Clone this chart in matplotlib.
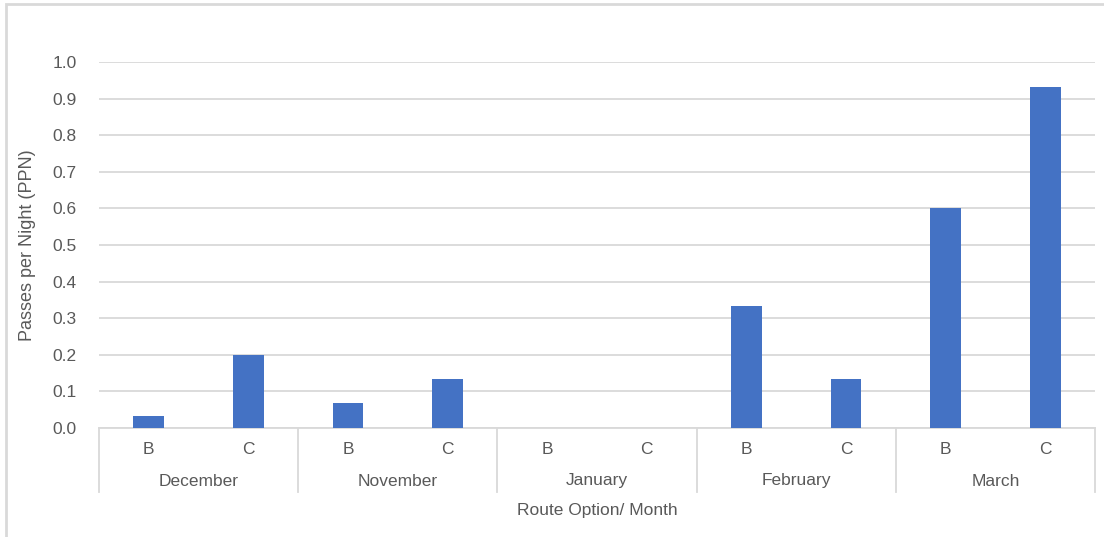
import matplotlib.pyplot as plt
from matplotlib.patches import Rectangle
import numpy as np

months = ["December", "November", "January", "February", "March"]
routes = ["B", "C"]
route_b = [0.033, 0.067, 0.0, 0.333, 0.600]
route_c = [0.200, 0.133, 0.0, 0.133, 0.933]
y_ticks = [0.0, 0.1, 0.2, 0.3, 0.4, 0.5, 0.6, 0.7, 0.8, 0.9, 1.0]

bar_color = "#4472C4"
grid_color = "#D9D9D9"
text_color = "#595959"
fs = 12.5
plt.rcParams["font.family"] = ["Liberation Sans", "DejaVu Sans"]

W, H = 1104, 537
fig = plt.figure(figsize=(W / 100, H / 100), dpi=100)
# outer chart border (cut off on right and bottom like the screenshot)
fig.patches.append(Rectangle((6 / W, -0.1), 1.2, (H - 4) / H + 0.1, transform=fig.transFigure,
                             fill=False, edgecolor=grid_color, linewidth=2))

ax = fig.add_axes([99 / W, 109 / H, (1095 - 99) / W, (428 - 62) / H])

# interleave B/C values per month
values = []
labels = []
for b, c in zip(route_b, route_c):
    values += [b, c]
    labels += routes
x = np.arange(len(values)) + 0.5
ax.bar(x, values, width=0.31, color=bar_color, zorder=3)

ax.set_xlim(0, len(values))
ax.set_ylim(0, 1.0)
ax.set_yticks(y_ticks)
ax.set_yticklabels([f"{v:.1f}" for v in y_ticks])
ax.yaxis.grid(True, color=grid_color, linewidth=1.3, zorder=0)
ax.tick_params(axis="y", length=0, pad=16, labelsize=fs, labelcolor=text_color)
ax.set_xticks([])
for s in ["top", "right", "left"]:
    ax.spines[s].set_visible(False)
ax.spines["bottom"].set_color(grid_color)
ax.spines["bottom"].set_linewidth(1.3)

# two-level category axis
trans = ax.get_xaxis_transform()
for xi, lab in zip(x, labels):
    ax.text(xi, -21 / 366, lab, transform=trans, ha="center", va="center",
            fontsize=fs, color=text_color)
for i, m in enumerate(months):
    ax.text(2 * i + 1, -53 / 366, m, transform=trans, ha="center", va="center",
            fontsize=fs, color=text_color)
for i in range(len(months) + 1):
    ax.plot([2 * i, 2 * i], [0, -64 / 366], transform=trans, color=grid_color,
            linewidth=1.3, clip_on=False)

fig.text((99 + 1095) / 2 / W, 1 - 511 / H, "Route Option/ Month", ha="center", va="center",
         fontsize=fs, color=text_color)
fig.text(28 / W, 1 - 245 / H, "Passes per Night (PPN)", rotation=90, ha="center", va="center",
         fontsize=fs + 0.5, color=text_color)

fig.savefig("out.png", dpi=100)
